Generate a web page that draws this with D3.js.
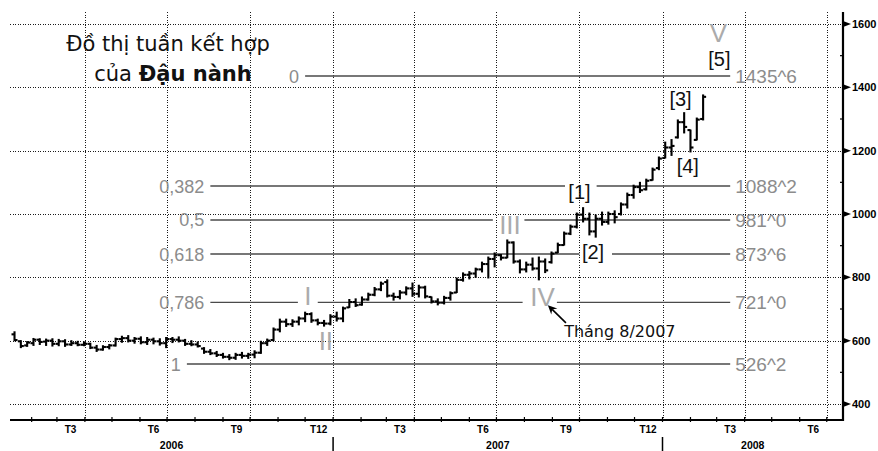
<!DOCTYPE html>
<html><head><meta charset="utf-8">
<script src="https://cdn.jsdelivr.net/npm/d3@7"></script>
<style>body{margin:0;background:#fff}</style>
</head><body><svg id="c" width="878" height="451"></svg>
<script>
const weekDates = [
"2006-01-13","2006-01-20","2006-01-27","2006-02-03","2006-02-10","2006-02-17","2006-02-24",
"2006-03-03","2006-03-10","2006-03-17","2006-03-24","2006-03-31","2006-04-07","2006-04-14",
"2006-04-21","2006-04-28","2006-05-05","2006-05-12","2006-05-19","2006-05-26","2006-06-02",
"2006-06-09","2006-06-16","2006-06-23","2006-06-30","2006-07-07","2006-07-14","2006-07-21",
"2006-07-28","2006-08-04","2006-08-11","2006-08-18","2006-08-25","2006-09-01","2006-09-08",
"2006-09-15","2006-09-22","2006-09-29","2006-10-06","2006-10-13","2006-10-20","2006-10-27",
"2006-11-03","2006-11-10","2006-11-17","2006-11-24","2006-12-01","2006-12-08","2006-12-15",
"2006-12-22","2006-12-29","2007-01-05","2007-01-12","2007-01-19","2007-01-26","2007-02-02",
"2007-02-09","2007-02-16","2007-02-23","2007-03-02","2007-03-09","2007-03-16","2007-03-23",
"2007-03-30","2007-04-06","2007-04-13","2007-04-20","2007-04-27","2007-05-04","2007-05-11",
"2007-05-18","2007-05-25","2007-06-01","2007-06-08","2007-06-15","2007-06-22","2007-06-29",
"2007-07-06","2007-07-13","2007-07-20","2007-07-27","2007-08-03","2007-08-10","2007-08-17",
"2007-08-24","2007-08-31","2007-09-07","2007-09-14","2007-09-21","2007-09-28","2007-10-05",
"2007-10-12","2007-10-19","2007-10-26","2007-11-02","2007-11-09","2007-11-16","2007-11-23",
"2007-11-30","2007-12-07","2007-12-14","2007-12-21","2007-12-28","2008-01-04","2008-01-11",
"2008-01-18","2008-01-25","2008-02-01","2008-02-08","2008-02-15"];
const highs = [628,600,597,607,606,605,606,604,603,600,598,596,592,585,584,588,608,614,616,610,
612,610,608,606,610,610,612,604,600,596,578,572,566,560,556,560,563,560,568,598,
605,640,668,668,666,675,690,688,668,664,682,690,706,730,732,738,750,768,785,792,
750,758,770,782,775,772,738,732,740,754,798,814,818,829,848,864,877,872,918,912,
855,848,861,864,858,880,908,943,965,1003,1020,1003,997,1006,1006,1010,1035,1066,1091,1100,
1110,1145,1180,1227,1235,1297,1320,1265,1303,1376];
const lows = [600,578,582,585,588,585,583,584,582,585,584,584,575,566,570,574,583,595,596,592,
590,588,590,586,578,594,596,585,584,580,560,556,550,545,540,541,545,544,546,560,
585,600,628,645,645,650,660,658,650,646,650,662,660,705,708,712,728,742,758,738,
728,732,745,740,738,735,719,713,716,728,752,788,795,800,817,798,833,855,862,845,
814,817,823,792,815,845,878,902,935,956,975,934,927,965,968,972,997,1019,1050,1068,
1076,1107,1140,1177,1185,1240,1256,1196,1234,1297];
const opens = [620,598,585,592,603,597,600,590,598,588,592,587,590,578,572,580,585,605,608,600,
606,595,603,598,592,605,603,600,590,588,575,565,560,555,549,546,555,552,556,562,
592,602,635,660,652,660,670,684,664,656,654,676,670,705,722,714,730,745,762,785,
742,738,752,765,748,768,738,724,720,735,752,792,808,812,825,842,858,870,862,910,
850,825,840,828,850,848,878,902,938,960,998,985,945,985,975,1000,1000,1030,1060,1085,
1078,1107,1145,1177,1210,1242,1290,1265,1234,1300];
const closes = [602,583,594,603,596,600,590,598,588,592,587,590,578,572,580,585,605,608,600,606,
595,603,598,592,605,603,600,590,588,583,565,560,555,549,546,555,552,556,562,592,
600,635,660,652,660,670,684,664,656,654,676,670,702,722,712,730,745,762,780,742,
738,752,765,748,768,740,724,720,735,750,792,808,812,825,842,858,870,862,910,850,
825,840,828,850,822,875,902,938,960,998,985,945,985,975,1000,990,1030,1060,1085,1075,
1105,1140,1175,1210,1215,1290,1275,1210,1298,1370];

const priceTicks = [400,600,800,1000,1200,1400,1600];
const minorPriceTicks = [500,700,900,1100,1300,1500];
const monthLabels = ["T3","T6","T9","T12"];
const yearLabels = ["2006","2007","2008"];

const fibRatios = ["0","0,382","0,5","0,618","0,786","1"];
const fibLevels = [1435.6,1088.2,981.0,873.6,721.0,526.2];
const fibValueLabels = ["1435^6","1088^2","981^0","873^6","721^0","526^2"];
const fibSegments = [
 [["2006-12-01","2008-03-16"]],
 [["2006-08-18","2007-09-15"],["2007-10-20","2008-03-16"]],
 [["2006-08-18","2007-06-27"],["2007-08-01","2008-03-16"]],
 [["2006-08-18","2007-10-01"],["2007-11-06","2008-03-16"]],
 [["2006-08-18","2006-11-23"],["2006-12-15","2007-07-30"],["2007-09-06","2008-03-16"]],
 [["2006-07-23","2008-03-16"]]
];
const waveLabels = ["[1]","[2]","[3]","[4]","[5]"];
const waveDates = ["2007-10-01","2007-10-16","2008-01-21","2008-01-29","2008-03-04"];
const wavePrices = [1069,880,1363,1152,1489];
const romanLabels = ["I","II","III","IV","V"];
const romanDates = ["2006-12-04","2006-12-24","2007-07-16","2007-08-21","2008-03-03"];
const romanPrices = [741,600,965,738,1572];
const noteText = "Tháng 8/2007";
const noteArrowFrom = ["2007-09-16", 656];
const noteArrowTo = ["2007-08-27", 712];
const notePos = ["2007-09-14", 612];

const parse = d3.timeParse("%Y-%m-%d");
const svg = d3.select("#c");
const x = d3.scaleTime().domain([parse("2006-01-08"), parse("2008-07-19")]).range([10, 843]);
const y = d3.scaleLinear().domain([400, 1600]).range([404, 24]);
const plotTop = 12, plotBottom = 420, plotLeft = 10, plotRight = 843;

// grid
const grid = svg.append("g").attr("stroke", "#1a1a1a").attr("stroke-width", 1).attr("stroke-dasharray", "1,1.5")
  .attr("shape-rendering", "crispEdges");
grid.selectAll("line.h").data(priceTicks).join("line")
  .attr("x1", plotLeft).attr("x2", plotRight).attr("y1", d => Math.round(y(d)) + 0.5).attr("y2", d => Math.round(y(d)) + 0.5);
const quarters = d3.timeMonth.every(3).range(parse("2006-02-01"), x.domain()[1]);
grid.selectAll("line.v").data(quarters).join("line")
  .attr("x1", d => Math.round(x(d)) + 0.5).attr("x2", d => Math.round(x(d)) + 0.5).attr("y1", plotTop).attr("y2", plotBottom);

// fib lines
const fib = svg.append("g");
fibLevels.forEach((lv, i) => {
  fibSegments[i].forEach(s => {
    fib.append("line").attr("x1", x(parse(s[0]))).attr("x2", x(parse(s[1])))
      .attr("y1", y(lv)).attr("y2", y(lv)).attr("stroke", "#4a4a4a").attr("stroke-width", 1.4);
  });
  fib.append("text").attr("x", x(parse(fibSegments[i][0][0])) - 6).attr("y", y(lv))
    .attr("dy", "0.36em").attr("text-anchor", "end")
    .attr("font-family", "Liberation Sans, Arial, sans-serif").attr("font-size", 18)
    .attr("fill", "#8c8c8c").text(fibRatios[i]);
  const segs = fibSegments[i];
  fib.append("text").attr("x", x(parse(segs[segs.length - 1][1])) + 5).attr("y", y(lv))
    .attr("dy", "0.36em")
    .attr("font-family", "Liberation Sans, Arial, sans-serif").attr("font-size", 19)
    .attr("fill", "#8c8c8c").text(fibValueLabels[i]);
});

// OHLC bars
const bars = svg.append("g").attr("stroke", "#000").attr("stroke-width", 2.1);
weekDates.forEach((d, i) => {
  const cx = x(parse(d));
  bars.append("line").attr("x1", cx).attr("x2", cx).attr("y1", y(highs[i]) - 0.5).attr("y2", y(lows[i]) + 0.5);
  bars.append("line").attr("x1", cx - 3).attr("x2", cx).attr("y1", y(opens[i])).attr("y2", y(opens[i]));
  bars.append("line").attr("x1", cx).attr("x2", cx + 3).attr("y1", y(closes[i])).attr("y2", y(closes[i]));
});

// axes
svg.append("line").attr("x1", plotLeft).attr("x2", plotRight + 1).attr("y1", plotBottom).attr("y2", plotBottom)
  .attr("stroke", "#000").attr("stroke-width", 2.2);
svg.append("line").attr("x1", plotRight).attr("x2", plotRight).attr("y1", plotTop).attr("y2", plotBottom + 1)
  .attr("stroke", "#000").attr("stroke-width", 2.2);
const ra = svg.append("g");
priceTicks.forEach(p => {
  ra.append("path").attr("d", `M${plotRight},${y(p) - 3}L${plotRight + 8},${y(p)}L${plotRight},${y(p) + 3}Z`).attr("fill", "#000");
  ra.append("text").attr("x", plotRight + 9).attr("y", y(p)).attr("dy", "0.36em")
    .attr("font-family", "Liberation Sans, Arial, sans-serif").attr("font-weight", "bold").attr("font-size", 11)
    .text(p);
});
minorPriceTicks.forEach(p => {
  ra.append("line").attr("x1", plotRight - 3).attr("x2", plotRight).attr("y1", y(p)).attr("y2", y(p))
    .attr("stroke", "#000").attr("stroke-width", 1.2);
});
const months = d3.timeMonth.range(parse("2006-02-01"), x.domain()[1]);
const ba = svg.append("g");
months.forEach(m => {
  ba.append("line").attr("x1", x(m)).attr("x2", x(m)).attr("y1", plotBottom - 3).attr("y2", plotBottom + 2)
    .attr("stroke", "#000").attr("stroke-width", 1.2);
  const mi = m.getMonth();
  if (mi % 3 === 2) {
    const mid = new Date(m.getFullYear(), mi, 16);
    ba.append("text").attr("x", x(mid)).attr("y", 433).attr("text-anchor", "middle")
      .attr("font-family", "Liberation Sans, Arial, sans-serif").attr("font-weight", "bold").attr("font-size", 10)
      .text(monthLabels[(mi - 2) / 3]);
  }
});
yearLabels.forEach(yr => {
  const a = Math.max(x(new Date(+yr, 0, 1)), plotLeft);
  const b = Math.min(x(new Date(+yr + 1, 0, 1)), plotRight);
  ba.append("text").attr("x", (a + b) / 2).attr("y", 449).attr("text-anchor", "middle")
    .attr("font-family", "Liberation Sans, Arial, sans-serif").attr("font-weight", "bold").attr("font-size", 10.5)
    .text(yr);
  if (+yr > 2006) {
    ba.append("line").attr("x1", a).attr("x2", a).attr("y1", 437).attr("y2", 451)
      .attr("stroke", "#000").attr("stroke-width", 1.5);
  }
});

// wave labels
waveLabels.forEach((t, i) => {
  svg.append("text").attr("x", x(parse(waveDates[i]))).attr("y", y(wavePrices[i])).attr("dy", "0.36em")
    .attr("text-anchor", "middle").attr("font-family", "Liberation Sans, Arial, sans-serif").attr("font-size", 20)
    .attr("fill", "#111").text(t);
});
romanLabels.forEach((t, i) => {
  svg.append("text").attr("x", x(parse(romanDates[i]))).attr("y", y(romanPrices[i])).attr("dy", "0.36em")
    .attr("text-anchor", "middle").attr("font-family", "Liberation Sans, Arial, sans-serif").attr("font-size", 26)
    .attr("fill", "#ababab").text(t);
});

// note arrow
const ax1 = x(parse(noteArrowFrom[0])), ay1 = y(noteArrowFrom[1]);
const ax2 = x(parse(noteArrowTo[0])), ay2 = y(noteArrowTo[1]);
const ang = Math.atan2(ay2 - ay1, ax2 - ax1);
svg.append("line").attr("x1", ax1).attr("y1", ay1).attr("x2", ax2 - 6 * Math.cos(ang)).attr("y2", ay2 - 6 * Math.sin(ang))
  .attr("stroke", "#000").attr("stroke-width", 1.6);
const hl = 10, hw = 0.45;
svg.append("path").attr("d", `M${ax2},${ay2}L${ax2 - hl * Math.cos(ang - hw)},${ay2 - hl * Math.sin(ang - hw)}L${ax2 - 0.6 * hl * Math.cos(ang)},${ay2 - 0.6 * hl * Math.sin(ang)}L${ax2 - hl * Math.cos(ang + hw)},${ay2 - hl * Math.sin(ang + hw)}Z`)
  .attr("fill", "#000");
svg.append("text").attr("x", x(parse(notePos[0]))).attr("y", y(notePos[1]))
  .attr("font-family", "DejaVu Sans, sans-serif").attr("font-size", 16).attr("fill", "#111").text(noteText);

// title
const title = svg.append("text").attr("text-anchor", "middle").attr("font-family", "DejaVu Sans, sans-serif")
  .attr("font-size", 21).attr("fill", "#111");
title.append("tspan").attr("x", 168).attr("y", 51).text("Đồ thị tuần kết hợp");
const l2 = title.append("tspan").attr("x", 173).attr("y", 81);
l2.append("tspan").text("của ");
l2.append("tspan").attr("font-weight", "bold").text("Đậu nành");
</script>
</body></html>
